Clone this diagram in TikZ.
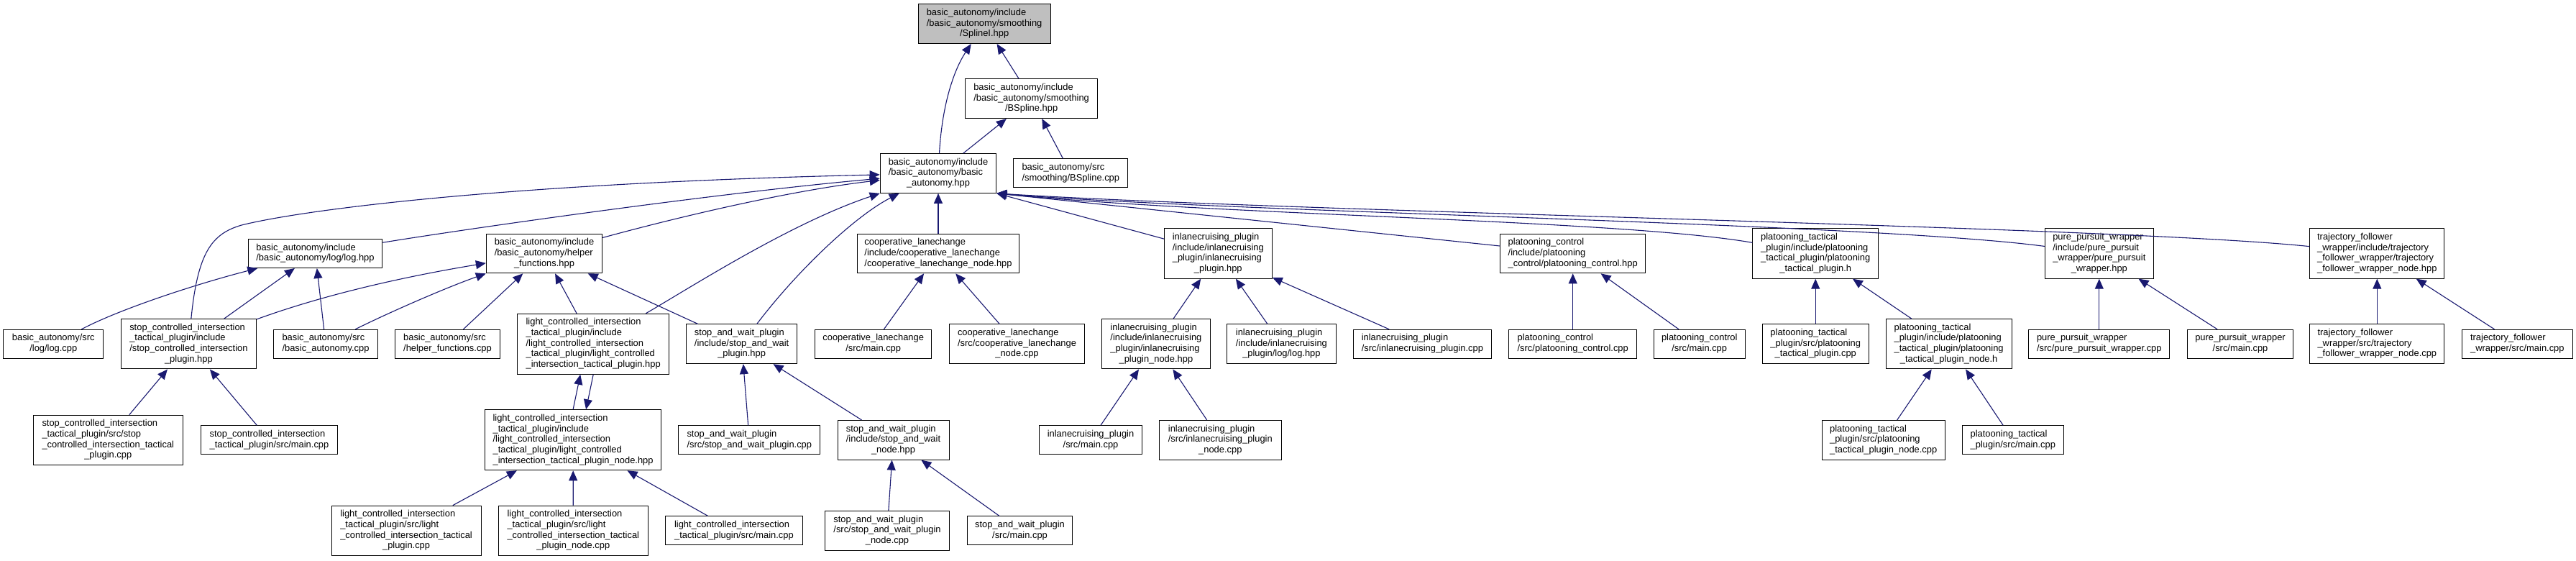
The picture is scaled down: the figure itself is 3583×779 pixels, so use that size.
\documentclass[tikz,border=0pt]{standalone}
\usepackage{fontspec}
\newfontfamily\graphfont{Liberation Sans}
\usepackage{tikz}
\usetikzlibrary{arrows.meta}
\definecolor{edgeblue}{HTML}{191970}
\definecolor{rootgray}{HTML}{BFBFBF}
\newcommand{\lc}[1]{\multicolumn{1}{@{}c@{}}{#1}}
\newcommand{\ft}[1]{\begin{tabular}{@{}l@{}}#1\end{tabular}}

\begin{document}
\begin{tikzpicture}[x=1pt, y=-1pt,
    main/.style = {draw, rectangle, line width=1pt, fill=white, inner sep=0pt,
        font=\graphfont\fontsize{12.9}{14.67}\selectfont},
    two/.style = {minimum height=40pt},
    three/.style = {minimum height=54.7pt},
    four/.style = {minimum height=69.3pt},
    five/.style = {minimum height=84pt},
    link/.style = {-{Triangle[length=14pt, width=12pt]}, draw=edgeblue, line width=1.1pt}]
        \useasboundingbox (0,0) rectangle (3583,779);
        \node[main, three, fill=rootgray, minimum width=184pt] (1) at (1369.1,33.2) {\ft{basic\_autonomy/include\\/basic\_autonomy/smoothing\\\lc{/SplineI.hpp}}};
        \node[main, three, minimum width=184.1pt] (2) at (1434.6,137.2) {\ft{basic\_autonomy/include\\/basic\_autonomy/smoothing\\\lc{/BSpline.hpp}}};
        \node[main, three, minimum width=161.5pt] (3) at (1305,241) {\ft{basic\_autonomy/include\\/basic\_autonomy/basic\\\lc{\_autonomy.hpp}}};
        \node[main, two, minimum width=158.8pt] (4) at (1489.3,240.9) {\ft{basic\_autonomy/src\\\lc{/smoothing/BSpline.cpp}}};
        \node[main, two, minimum width=186.6pt] (5) at (438.5,352.5) {\ft{basic\_autonomy/include\\\lc{/basic\_autonomy/log/log.hpp}}};
        \node[main, three, minimum width=161.3pt] (6) at (757,352.5) {\ft{basic\_autonomy/include\\/basic\_autonomy/helper\\\lc{\_functions.hpp}}};
        \node[main, three, minimum width=225.4pt] (7) at (1305,352.5) {\ft{cooperative\_lanechange\\/include/cooperative\_lanechange\\\lc{/cooperative\_lanechange\_node.hpp}}};
        \node[main, four, minimum width=149.8pt] (8) at (1694.3,352.5) {\ft{inlanecruising\_plugin\\/include/inlanecruising\\\_plugin/inlanecruising\\\lc{\_plugin.hpp}}};
        \node[main, three, minimum width=201.7pt] (9) at (2187.7,352.5) {\ft{platooning\_control\\/include/platooning\\\lc{\_control/platooning\_control.hpp}}};
        \node[main, four, minimum width=174.8pt] (10) at (2525.2,352.5) {\ft{platooning\_tactical\\\_plugin/include/platooning\\\_tactical\_plugin/platooning\\\lc{\_tactical\_plugin.h}}};
        \node[main, four, minimum width=150.9pt] (11) at (2919.8,352.5) {\ft{pure\_pursuit\_wrapper\\/include/pure\_pursuit\\\_wrapper/pure\_pursuit\\\lc{\_wrapper.hpp}}};
        \node[main, four, minimum width=186.9pt] (12) at (3306.3,352.5) {\ft{trajectory\_follower\\\_wrapper/include/trajectory\\\_follower\_wrapper/trajectory\\\lc{\_follower\_wrapper\_node.hpp}}};
        \node[main, two, minimum width=139.2pt] (13) at (74.3,478.3) {\ft{basic\_autonomy/src\\\lc{/log/log.cpp}}};
        \node[main, four, minimum width=187.9pt] (14) at (262.4,478.3) {\ft{stop\_controlled\_intersection\\\_tactical\_plugin/include\\/stop\_controlled\_intersection\\\lc{\_plugin.hpp}}};
        \node[main, two, minimum width=144.3pt] (15) at (453,478.3) {\ft{basic\_autonomy/src\\\lc{/basic\_autonomy.cpp}}};
        \node[main, two, minimum width=145.7pt] (16) at (622.5,478.3) {\ft{basic\_autonomy/src\\\lc{/helper\_functions.cpp}}};
        \node[main, five, minimum width=210.8pt] (17) at (825.2,478.3) {\ft{light\_controlled\_intersection\\\_tactical\_plugin/include\\/light\_controlled\_intersection\\\_tactical\_plugin/light\_controlled\\\lc{\_intersection\_tactical\_plugin.hpp}}};
        \node[main, three, minimum width=154.6pt] (18) at (1031.6,478.3) {\ft{stop\_and\_wait\_plugin\\/include/stop\_and\_wait\\\lc{\_plugin.hpp}}};
        \node[main, two, minimum width=162.5pt] (19) at (1214.7,478.3) {\ft{cooperative\_lanechange\\\lc{/src/main.cpp}}};
        \node[main, three, minimum width=188.2pt] (20) at (1414.5,478.3) {\ft{cooperative\_lanechange\\/src/cooperative\_lanechange\\\lc{\_node.cpp}}};
        \node[main, four, minimum width=151pt] (21) at (1607.9,478.3) {\ft{inlanecruising\_plugin\\/include/inlanecruising\\\_plugin/inlanecruising\\\lc{\_plugin\_node.hpp}}};
        \node[main, three, minimum width=151.3pt] (22) at (1782.4,478.3) {\ft{inlanecruising\_plugin\\/include/inlanecruising\\\lc{\_plugin/log/log.hpp}}};
        \node[main, two, minimum width=191.7pt] (23) at (1978.4,478.3) {\ft{inlanecruising\_plugin\\\lc{/src/inlanecruising\_plugin.cpp}}};
        \node[main, two, minimum width=177.9pt] (24) at (2187.7,478.3) {\ft{platooning\_control\\\lc{/src/platooning\_control.cpp}}};
        \node[main, two, minimum width=126.7pt] (25) at (2363.7,478.3) {\ft{platooning\_control\\\lc{/src/main.cpp}}};
        \node[main, three, minimum width=147.9pt] (26) at (2525.2,478.3) {\ft{platooning\_tactical\\\_plugin/src/platooning\\\lc{\_tactical\_plugin.cpp}}};
        \node[main, four, minimum width=174.8pt] (27) at (2710.6,478.3) {\ft{platooning\_tactical\\\_plugin/include/platooning\\\_tactical\_plugin/platooning\\\lc{\_tactical\_plugin\_node.h}}};
        \node[main, two, minimum width=196.1pt] (28) at (2919.8,478.3) {\ft{pure\_pursuit\_wrapper\\\lc{/src/pure\_pursuit\_wrapper.cpp}}};
        \node[main, two, minimum width=146.9pt] (29) at (3116,478.3) {\ft{pure\_pursuit\_wrapper\\\lc{/src/main.cpp}}};
        \node[main, three, minimum width=186.9pt] (30) at (3306.3,478.3) {\ft{trajectory\_follower\\\_wrapper/src/trajectory\\\lc{\_follower\_wrapper\_node.cpp}}};
        \node[main, two, minimum width=153.8pt] (31) at (3501.3,478.3) {\ft{trajectory\_follower\\\lc{\_wrapper/src/main.cpp}}};
        \node[main, four, minimum width=207.9pt] (32) at (150.3,611.8) {\ft{stop\_controlled\_intersection\\\_tactical\_plugin/src/stop\\\_controlled\_intersection\_tactical\\\lc{\_plugin.cpp}}};
        \node[main, two, minimum width=190.6pt] (33) at (374.5,611.8) {\ft{stop\_controlled\_intersection\\\lc{\_tactical\_plugin/src/main.cpp}}};
        \node[main, five, minimum width=245.6pt] (34) at (797.1,611.8) {\ft{light\_controlled\_intersection\\\_tactical\_plugin/include\\/light\_controlled\_intersection\\\_tactical\_plugin/light\_controlled\\\lc{\_intersection\_tactical\_plugin\_node.hpp}}};
        \node[main, two, minimum width=197.3pt] (38) at (1042.3,611.8) {\ft{stop\_and\_wait\_plugin\\\lc{/src/stop\_and\_wait\_plugin.cpp}}};
        \node[main, three, minimum width=155pt] (39) at (1242.5,611.8) {\ft{stop\_and\_wait\_plugin\\/include/stop\_and\_wait\\\lc{\_node.hpp}}};
        \node[main, two, minimum width=142.3pt] (42) at (1517,611.8) {\ft{inlanecruising\_plugin\\\lc{/src/main.cpp}}};
        \node[main, three, minimum width=169.4pt] (43) at (1697.3,611.8) {\ft{inlanecruising\_plugin\\/src/inlanecruising\_plugin\\\lc{\_node.cpp}}};
        \node[main, three, minimum width=170.8pt] (44) at (2619.7,611.8) {\ft{platooning\_tactical\\\_plugin/src/platooning\\\lc{\_tactical\_plugin\_node.cpp}}};
        \node[main, two, minimum width=141.2pt] (45) at (2799.8,611.8) {\ft{platooning\_tactical\\\lc{\_plugin/src/main.cpp}}};
        \node[main, four, minimum width=208.2pt] (35) at (565.1,737.8) {\ft{light\_controlled\_intersection\\\_tactical\_plugin/src/light\\\_controlled\_intersection\_tactical\\\lc{\_plugin.cpp}}};
        \node[main, four, minimum width=208pt] (36) at (797.3,737.8) {\ft{light\_controlled\_intersection\\\_tactical\_plugin/src/light\\\_controlled\_intersection\_tactical\\\lc{\_plugin\_node.cpp}}};
        \node[main, two, minimum width=191pt] (37) at (1020.9,737.8) {\ft{light\_controlled\_intersection\\\lc{\_tactical\_plugin/src/main.cpp}}};
        \node[main, three, minimum width=173.5pt] (40) at (1234,737.8) {\ft{stop\_and\_wait\_plugin\\/src/stop\_and\_wait\_plugin\\\lc{\_node.cpp}}};
        \node[main, two, minimum width=146.3pt] (41) at (1418.5,737.8) {\ft{stop\_and\_wait\_plugin\\\lc{/src/main.cpp}}};
        \draw[link] (2) -- (1);
        \draw[link] (3) .. controls (1310,150) and (1325,100) .. (1);
        \draw[link] (3) -- (2);
        \draw[link] (4) -- (2);
        \draw[link] (14) .. controls (275,350) and (295,325) .. (336,313) .. controls (420,292) and (700,255) .. (3);
        \draw[link] (5) .. controls (650,318) and (1000,268) .. (3);
        \draw[link] (6) .. controls (950,300) and (1100,265) .. (3);
        \draw[link] (17) .. controls (960,400) and (1100,310) .. (3.south west);
        \draw[link] (18) .. controls (1110,375) and (1190,300) .. (3);
        \draw[link] (7) -- (3);
        \draw[link] (8) -- (3.south east);
        \draw[link] (9) -- (3.south east);
        \draw[link] (10) .. controls (2250,305) and (1700,300) .. (3.south east);
        \draw[link] (11) .. controls (2600,310) and (1700,295) .. (3.south east);
        \draw[link] (12) .. controls (2950,315) and (1800,295) .. (3.south east);
        \draw[link] (13) .. controls (170,428) and (280,393) .. (5);
        \draw[link] (14) -- (5);
        \draw[link] (15) -- (5);
        \draw[link] (14) .. controls (450,410) and (560,385) .. (6);
        \draw[link] (15) .. controls (540,435) and (620,400) .. (6.south west);
        \draw[link] (16) -- (6);
        \draw[link] (17) -- (6);
        \draw[link] (18) -- (6);
        \draw[link] (19) -- (7);
        \draw[link] (20) -- (7);
        \draw[link] (21) -- (8);
        \draw[link] (22) -- (8);
        \draw[link] (23) -- (8);
        \draw[link] (24) -- (9);
        \draw[link] (25) -- (9);
        \draw[link] (26) -- (10);
        \draw[link] (27) -- (10);
        \draw[link] (28) -- (11);
        \draw[link] (29) -- (11);
        \draw[link] (30) -- (12);
        \draw[link] (31) -- (12);
        \draw[link] (32) -- (14);
        \draw[link] (33) -- (14);
        \draw[link] (34.north) -- ([xshift=-18pt]17.south);
        \draw[link] (17.south) -- ([xshift=18pt]34.north);
        \draw[link] (38) -- (18);
        \draw[link] (39) -- (18);
        \draw[link] (42) -- (21);
        \draw[link] (43) -- (21);
        \draw[link] (44) -- (27);
        \draw[link] (45) -- (27);
        \draw[link] (35) -- (34);
        \draw[link] (36) -- (34);
        \draw[link] (37) -- (34);
        \draw[link] (40) -- (39);
        \draw[link] (41) -- (39);
\end{tikzpicture}
\end{document}
